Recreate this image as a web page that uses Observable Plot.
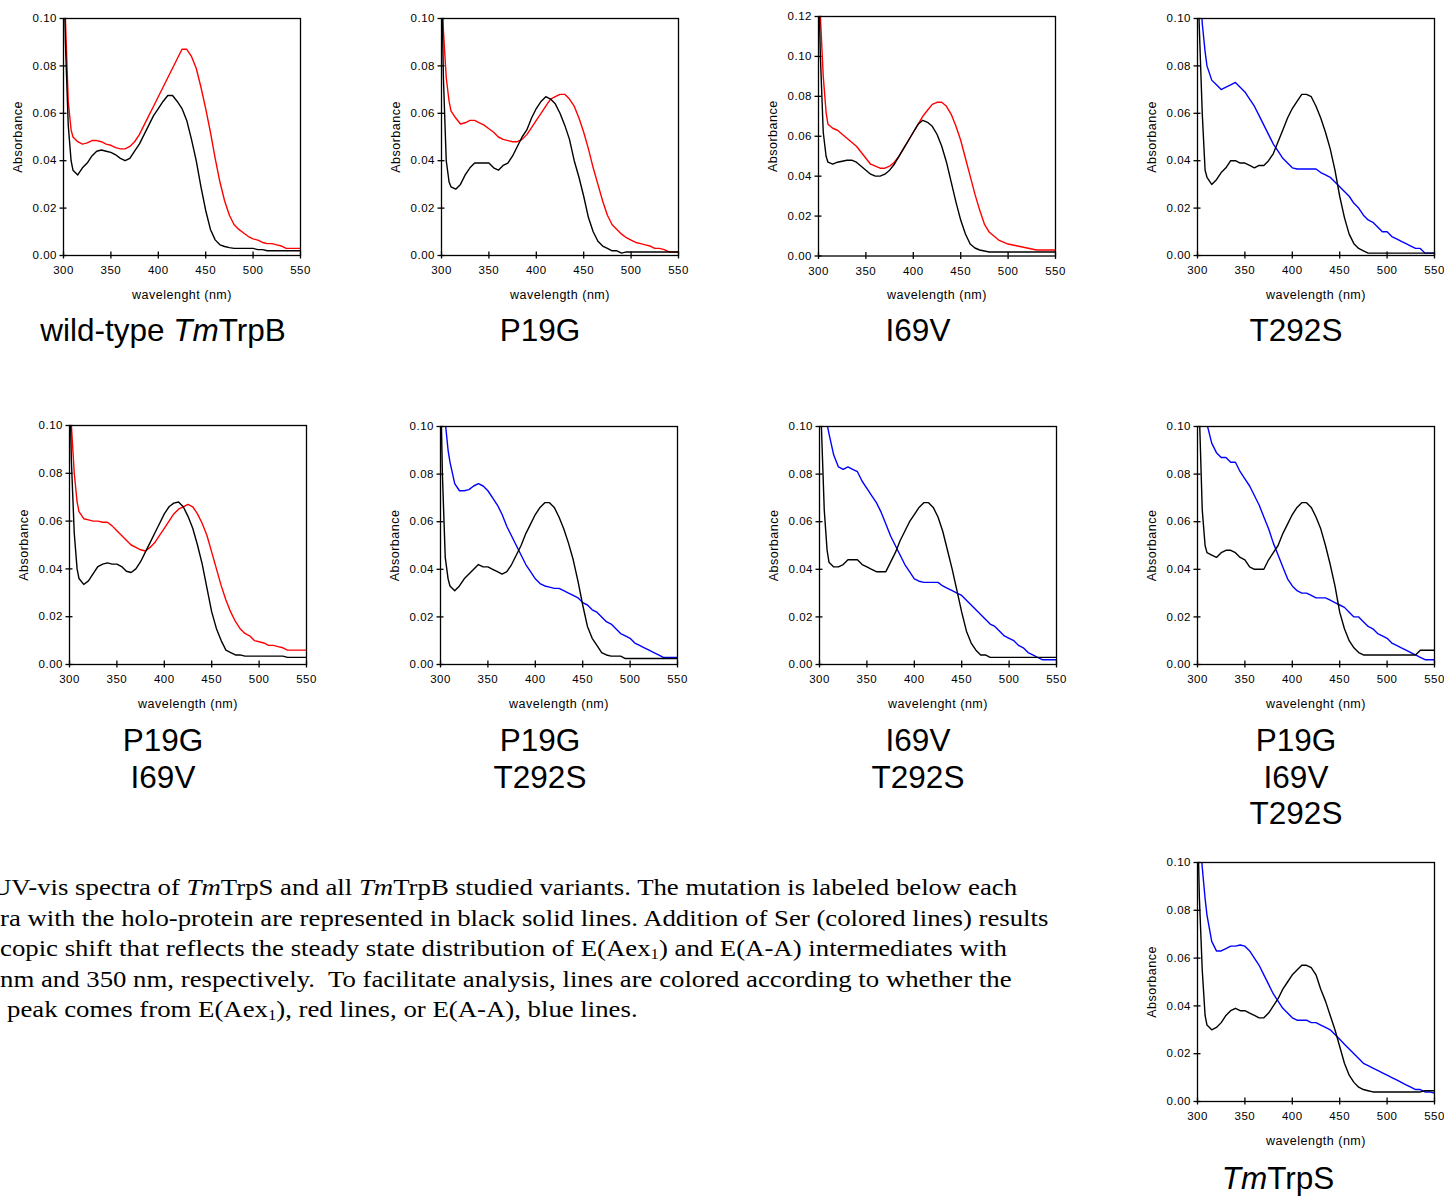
<!DOCTYPE html>
<html><head><meta charset="utf-8">
<script src="https://cdn.jsdelivr.net/npm/d3@7"></script>
<script src="https://cdn.jsdelivr.net/npm/@observablehq/plot@0.6"></script>
<style>
html,body{margin:0;padding:0;background:#fff}
body{width:1444px;height:1196px;position:relative;overflow:hidden;font-family:"Liberation Sans",Arial,sans-serif;color:#000}
.panel{position:absolute}
.panel svg{overflow:visible;max-width:none !important}
.panel svg text{letter-spacing:0.5px}
.title{position:absolute;font-size:31.5px;line-height:36.5px;text-align:center;white-space:nowrap;transform:translateX(-50%)}
.cap{position:absolute;font-family:"Liberation Serif","Times New Roman",serif;font-size:22.5px;line-height:30.5px;white-space:nowrap;transform-origin:0 0;transform:scaleX(1.19)}
.cap sub{font-size:0.62em;line-height:0;vertical-align:-0.2em}
</style></head>
<body>
<div id="root"></div>
<script>
// ---- data (absorbance) ----
const wavelength = [300, 302, 305, 308, 310,
  315, 320, 325, 330, 335, 340, 345, 350,
  355, 360, 365, 370, 375, 380, 385, 390,
  395, 400, 405, 410, 415, 420, 425, 430,
  435, 440, 445, 450, 455, 460, 465, 470,
  475, 480, 485, 490, 495, 500, 505, 510,
  515, 520, 525, 530, 535, 540, 545, 550];
const xTickValues = [300, 350, 400, 450, 500, 550];

const wtHolo = [0.13, 0.09, 0.055, 0.040, 0.036,
  0.034, 0.037, 0.039, 0.042, 0.044, 0.0445, 0.044, 0.0435,
  0.0425, 0.041, 0.040, 0.041, 0.044, 0.047, 0.051, 0.055,
  0.059, 0.062, 0.065, 0.0675, 0.0675, 0.065, 0.062, 0.057,
  0.049, 0.040, 0.029, 0.019, 0.011, 0.0066, 0.0045, 0.0038,
  0.0033, 0.003, 0.003, 0.003, 0.003, 0.003, 0.0025, 0.0025,
  0.002, 0.002, 0.002, 0.002, 0.002, 0.002, 0.002, 0.002];
const wtSer = [0.13, 0.10, 0.065, 0.053, 0.050,
  0.048, 0.047, 0.0475, 0.0485, 0.0485, 0.048, 0.047, 0.0465,
  0.0455, 0.045, 0.045, 0.046, 0.048, 0.051, 0.055, 0.059,
  0.063, 0.067, 0.071, 0.075, 0.079, 0.083, 0.087, 0.087,
  0.084, 0.079, 0.071, 0.062, 0.052, 0.041, 0.031, 0.023,
  0.017, 0.013, 0.011, 0.0095, 0.008, 0.007, 0.0065, 0.0055,
  0.005, 0.005, 0.0045, 0.004, 0.003, 0.003, 0.003, 0.003];

const p19gHolo = [0.12, 0.075, 0.040, 0.031, 0.029,
  0.028, 0.030, 0.034, 0.037, 0.039, 0.039, 0.039, 0.039,
  0.037, 0.036, 0.038, 0.039, 0.042, 0.046, 0.050, 0.053,
  0.058, 0.062, 0.065, 0.067, 0.066, 0.064, 0.060, 0.055,
  0.049, 0.040, 0.033, 0.025, 0.016, 0.010, 0.006, 0.004,
  0.003, 0.002, 0.002, 0.001, 0.0015, 0.0015, 0.0015, 0.0015,
  0.0015, 0.0015, 0.0015, 0.0015, 0.0015, 0.0015, 0.0015, 0.0015];
const p19gSer = [0.12, 0.095, 0.075, 0.065, 0.061,
  0.058, 0.0555, 0.056, 0.057, 0.057, 0.056, 0.055, 0.0535,
  0.052, 0.050, 0.049, 0.0485, 0.048, 0.048, 0.049, 0.051,
  0.054, 0.057, 0.060, 0.063, 0.066, 0.067, 0.068, 0.068,
  0.066, 0.063, 0.058, 0.052, 0.045, 0.037, 0.030, 0.023,
  0.017, 0.013, 0.011, 0.009, 0.0075, 0.0065, 0.0055, 0.005,
  0.0045, 0.004, 0.003, 0.003, 0.0025, 0.0015, 0.0015, 0.0015];

const i69vHolo = [0.14, 0.10, 0.062, 0.050, 0.047,
  0.046, 0.047, 0.0475, 0.048, 0.048, 0.047, 0.045, 0.043,
  0.041, 0.040, 0.040, 0.041, 0.043, 0.046, 0.050, 0.054,
  0.058, 0.062, 0.066, 0.068, 0.067, 0.065, 0.061, 0.055,
  0.047, 0.037, 0.027, 0.018, 0.011, 0.006, 0.004, 0.003,
  0.0025, 0.002, 0.002, 0.002, 0.002, 0.002, 0.002, 0.002,
  0.002, 0.002, 0.002, 0.002, 0.002, 0.002, 0.002, 0.002];
const i69vSer = [0.14, 0.12, 0.090, 0.072, 0.066,
  0.064, 0.063, 0.061, 0.059, 0.057, 0.055, 0.052, 0.049,
  0.046, 0.045, 0.044, 0.044, 0.045, 0.047, 0.050, 0.054,
  0.058, 0.062, 0.066, 0.070, 0.073, 0.076, 0.077, 0.077,
  0.075, 0.071, 0.065, 0.058, 0.049, 0.040, 0.031, 0.023,
  0.016, 0.012, 0.010, 0.008, 0.007, 0.006, 0.0055, 0.005,
  0.0045, 0.004, 0.0035, 0.003, 0.003, 0.003, 0.003, 0.003];

const t292sHolo = [0.12, 0.095, 0.060, 0.036, 0.033,
  0.030, 0.032, 0.035, 0.037, 0.040, 0.040, 0.039, 0.039,
  0.038, 0.037, 0.038, 0.038, 0.040, 0.043, 0.048, 0.053,
  0.058, 0.062, 0.065, 0.068, 0.068, 0.067, 0.063, 0.058,
  0.052, 0.045, 0.036, 0.025, 0.016, 0.009, 0.005, 0.003,
  0.002, 0.001, 0.001, 0.001, 0.001, 0.001, 0.001, 0.001,
  0.001, 0.001, 0.001, 0.001, 0.001, 0.001, 0.001, 0.001];
const t292sSer = [0.13, 0.12, 0.098, 0.086, 0.080,
  0.074, 0.072, 0.070, 0.071, 0.072, 0.073, 0.071, 0.069,
  0.066, 0.063, 0.059, 0.055, 0.051, 0.047, 0.044, 0.041,
  0.039, 0.037, 0.0365, 0.0365, 0.0365, 0.0365, 0.0365, 0.035,
  0.034, 0.033, 0.031, 0.029, 0.027, 0.025, 0.022, 0.020,
  0.017, 0.015, 0.014, 0.012, 0.010, 0.010, 0.008, 0.007,
  0.006, 0.005, 0.004, 0.003, 0.003, 0.001, 0.001, 0.001];

const p19gI69vHolo = [0.12, 0.085, 0.055, 0.040, 0.036,
  0.0335, 0.035, 0.038, 0.041, 0.042, 0.0425, 0.042, 0.042,
  0.041, 0.039, 0.0385, 0.040, 0.043, 0.047, 0.051, 0.055,
  0.059, 0.063, 0.066, 0.0675, 0.068, 0.066, 0.062, 0.057,
  0.050, 0.042, 0.032, 0.022, 0.015, 0.010, 0.006, 0.005,
  0.004, 0.004, 0.0035, 0.0035, 0.0035, 0.0035, 0.0035, 0.0035,
  0.0035, 0.0035, 0.0035, 0.003, 0.003, 0.003, 0.003, 0.003];
const p19gI69vSer = [0.13, 0.10, 0.080, 0.068, 0.064,
  0.061, 0.0605, 0.060, 0.060, 0.0595, 0.0595, 0.058, 0.056,
  0.054, 0.052, 0.050, 0.049, 0.048, 0.0475, 0.049, 0.051,
  0.054, 0.057, 0.060, 0.063, 0.065, 0.066, 0.067, 0.066,
  0.063, 0.059, 0.054, 0.047, 0.040, 0.033, 0.027, 0.022,
  0.018, 0.015, 0.013, 0.012, 0.010, 0.0095, 0.009, 0.008,
  0.008, 0.0075, 0.007, 0.006, 0.006, 0.006, 0.006, 0.006];

const p19gT292sHolo = [0.12, 0.080, 0.045, 0.036, 0.033,
  0.031, 0.033, 0.036, 0.038, 0.040, 0.042, 0.041, 0.041,
  0.040, 0.039, 0.038, 0.039, 0.042, 0.046, 0.050, 0.055,
  0.059, 0.063, 0.066, 0.068, 0.068, 0.066, 0.062, 0.057,
  0.051, 0.044, 0.035, 0.025, 0.016, 0.011, 0.008, 0.005,
  0.004, 0.0035, 0.0035, 0.0035, 0.0025, 0.0025, 0.0025, 0.0025,
  0.0025, 0.0025, 0.0025, 0.0025, 0.0025, 0.0025, 0.0025, 0.0025];
const p19gT292sSer = [0.13, 0.12, 0.102, 0.090, 0.085,
  0.076, 0.073, 0.073, 0.0735, 0.075, 0.076, 0.075, 0.073,
  0.070, 0.067, 0.063, 0.058, 0.054, 0.050, 0.046, 0.042,
  0.039, 0.036, 0.034, 0.033, 0.0325, 0.032, 0.032, 0.031,
  0.030, 0.029, 0.028, 0.026, 0.025, 0.023, 0.022, 0.020,
  0.018, 0.017, 0.015, 0.013, 0.012, 0.011, 0.009, 0.008,
  0.007, 0.006, 0.005, 0.004, 0.003, 0.003, 0.003, 0.003];

const i69vT292sHolo = [0.12, 0.10, 0.065, 0.048, 0.043,
  0.041, 0.041, 0.042, 0.044, 0.044, 0.044, 0.042, 0.041,
  0.040, 0.039, 0.039, 0.039, 0.043, 0.047, 0.052, 0.056,
  0.060, 0.063, 0.066, 0.068, 0.068, 0.066, 0.062, 0.056,
  0.048, 0.040, 0.031, 0.022, 0.014, 0.009, 0.006, 0.004,
  0.004, 0.003, 0.003, 0.003, 0.003, 0.003, 0.003, 0.003,
  0.003, 0.003, 0.003, 0.003, 0.003, 0.003, 0.003, 0.003];
const i69vT292sSer = [0.13, 0.12, 0.108, 0.101, 0.097,
  0.088, 0.083, 0.082, 0.083, 0.082, 0.081, 0.077, 0.074,
  0.071, 0.068, 0.064, 0.059, 0.054, 0.050, 0.046, 0.042,
  0.039, 0.036, 0.035, 0.0345, 0.0345, 0.0345, 0.0345, 0.033,
  0.032, 0.031, 0.030, 0.029, 0.027, 0.025, 0.023, 0.021,
  0.019, 0.017, 0.016, 0.014, 0.012, 0.011, 0.010, 0.008,
  0.007, 0.005, 0.004, 0.003, 0.002, 0.002, 0.002, 0.002];

const tripleHolo = [0.12, 0.105, 0.065, 0.050, 0.047,
  0.046, 0.045, 0.047, 0.048, 0.048, 0.047, 0.045, 0.044,
  0.041, 0.040, 0.040, 0.040, 0.044, 0.047, 0.050, 0.055,
  0.059, 0.063, 0.066, 0.068, 0.068, 0.066, 0.062, 0.057,
  0.050, 0.042, 0.033, 0.022, 0.015, 0.010, 0.007, 0.005,
  0.004, 0.004, 0.004, 0.004, 0.004, 0.004, 0.004, 0.004,
  0.004, 0.004, 0.004, 0.004, 0.006, 0.006, 0.006, 0.006];
const tripleSer = [0.13, 0.125, 0.115, 0.105, 0.101,
  0.093, 0.089, 0.087, 0.087, 0.085, 0.085, 0.081, 0.078,
  0.075, 0.071, 0.067, 0.062, 0.057, 0.051, 0.046, 0.041,
  0.036, 0.033, 0.031, 0.030, 0.030, 0.029, 0.028, 0.028,
  0.028, 0.027, 0.026, 0.025, 0.024, 0.022, 0.020, 0.020,
  0.018, 0.016, 0.015, 0.013, 0.012, 0.011, 0.009, 0.008,
  0.007, 0.006, 0.005, 0.004, 0.003, 0.002, 0.002, 0.002];

const trpSHolo = [0.12, 0.085, 0.055, 0.036, 0.032,
  0.030, 0.031, 0.033, 0.036, 0.038, 0.039, 0.038, 0.038,
  0.037, 0.036, 0.035, 0.035, 0.037, 0.040, 0.043, 0.047,
  0.050, 0.053, 0.055, 0.057, 0.057, 0.056, 0.053, 0.047,
  0.042, 0.036, 0.030, 0.023, 0.016, 0.011, 0.008, 0.006,
  0.005, 0.0045, 0.004, 0.004, 0.004, 0.004, 0.004, 0.004,
  0.004, 0.004, 0.004, 0.004, 0.004, 0.0045, 0.0045, 0.0045];
const trpSSer = [0.13, 0.115, 0.098, 0.085, 0.078,
  0.067, 0.063, 0.063, 0.064, 0.065, 0.065, 0.0655, 0.065,
  0.063, 0.060, 0.057, 0.053, 0.049, 0.045, 0.042, 0.039,
  0.037, 0.035, 0.034, 0.034, 0.034, 0.033, 0.033, 0.032,
  0.031, 0.030, 0.028, 0.026, 0.024, 0.022, 0.020, 0.018,
  0.016, 0.015, 0.014, 0.013, 0.012, 0.011, 0.010, 0.009,
  0.008, 0.007, 0.006, 0.005, 0.005, 0.004, 0.004, 0.0035];

// ---- layout ----
const RED = "#ff0000", BLUE = "#0000ff";
const panels = [
  {title: "wild-type <i>Tm</i>TrpB", cx: 163, ty: 312, left: 63, top: 18, h: 237, ymax: 0.10, xlabel: "wavelenght (nm)", holo: wtHolo, ser: wtSer, color: RED},
  {title: "P19G", cx: 540, ty: 312, left: 441, top: 18, h: 237, ymax: 0.10, xlabel: "wavelength (nm)", holo: p19gHolo, ser: p19gSer, color: RED},
  {title: "I69V", cx: 918, ty: 312, left: 818, top: 16, h: 239.5, ymax: 0.12, xlabel: "wavelength (nm)", holo: i69vHolo, ser: i69vSer, color: RED},
  {title: "T292S", cx: 1296, ty: 312, left: 1197, top: 18, h: 237, ymax: 0.10, xlabel: "wavelength (nm)", holo: t292sHolo, ser: t292sSer, color: BLUE},
  {title: "P19G<br>I69V", cx: 163, ty: 722, left: 69, top: 425, h: 239, ymax: 0.10, xlabel: "wavelength (nm)", holo: p19gI69vHolo, ser: p19gI69vSer, color: RED},
  {title: "P19G<br>T292S", cx: 540, ty: 722, left: 440, top: 426, h: 238, ymax: 0.10, xlabel: "wavelength (nm)", holo: p19gT292sHolo, ser: p19gT292sSer, color: BLUE},
  {title: "I69V<br>T292S", cx: 918, ty: 722, left: 819, top: 426, h: 238, ymax: 0.10, xlabel: "wavelenght (nm)", holo: i69vT292sHolo, ser: i69vT292sSer, color: BLUE},
  {title: "P19G<br>I69V<br>T292S", cx: 1296, ty: 722, left: 1197, top: 426, h: 238, ymax: 0.10, xlabel: "wavelenght (nm)", holo: tripleHolo, ser: tripleSer, color: BLUE},
  {title: "<i>Tm</i>TrpS", cx: 1278, ty: 1160, left: 1197, top: 862, h: 239, ymax: 0.10, xlabel: "wavelength (nm)", holo: trpSHolo, ser: trpSSer, color: BLUE}
];

const mL = 63, mT = 12, mR = 9, mB = 56, fw = 237;
const root = document.getElementById("root");
const toRows = arr => wavelength.map((w, i) => ({wl: w, a: arr[i]}));

for (const p of panels) {
  const yTicks = d3.range(0, p.ymax + 1e-9, 0.02);
  const chart = Plot.plot({
    width: mL + fw + mR,
    height: mT + p.h + mB,
    marginLeft: mL, marginTop: mT, marginRight: mR, marginBottom: mB,
    x: {domain: [300, 550]},
    y: {domain: [0, p.ymax]},
    style: {fontFamily: "'Liberation Sans', Arial, sans-serif", color: "#000", background: "transparent", overflow: "visible", maxWidth: "none"},
    marks: [
      Plot.line(toRows(p.ser), {x: "wl", y: "a", stroke: p.color, strokeWidth: 1.4, clip: true}),
      Plot.line(toRows(p.holo), {x: "wl", y: "a", stroke: "#000", strokeWidth: 1.4, clip: true}),
      Plot.frame({stroke: "#000", strokeWidth: 1.3}),
      Plot.axisX({ticks: xTickValues, tickSize: 3.5, tickPadding: 7, tickFormat: d => String(d), fontSize: 11.5, label: null, strokeWidth: 1.3}),
      Plot.axisX({ticks: xTickValues, tickSize: 3.5, dy: -3.5, tickFormat: () => "", label: null, strokeWidth: 1.3}),
      Plot.axisY({ticks: yTicks, tickSize: 3.5, tickPadding: 3, tickFormat: d3.format(".2f"), fontSize: 11.5, label: null, strokeWidth: 1.3}),
      Plot.axisY({ticks: yTicks, tickSize: 3.5, dx: 3.5, tickFormat: () => "", label: null, strokeWidth: 1.3}),
      Plot.text([p.xlabel], {text: d => d, frameAnchor: "bottom", textAnchor: "middle", lineAnchor: "middle", dy: 39, fontSize: 12.5}),
      Plot.text(["Absorbance"], {text: d => d, frameAnchor: "left", textAnchor: "middle", lineAnchor: "middle", rotate: -90, dx: -46, fontSize: 12.5})
    ]
  });
  const wrap = document.createElement("div");
  wrap.className = "panel";
  wrap.style.left = (p.left - mL) + "px";
  wrap.style.top = (p.top - mT) + "px";
  wrap.style.width = (mL + fw + mR) + "px";
  wrap.appendChild(chart);
  root.appendChild(wrap);

  const t = document.createElement("div");
  t.className = "title";
  t.style.left = p.cx + "px";
  t.style.top = p.ty + "px";
  t.innerHTML = p.title;
  root.appendChild(t);
}

// ---- caption (cut off at the left edge, as in the reference) ----
const captionLines = [
  {x: -8, html: "UV-vis spectra of <i>Tm</i>TrpS and all <i>Tm</i>TrpB studied variants. The mutation is labeled below each"},
  {x: 0, html: "ra with the holo-protein are represented in black solid lines. Addition of Ser (colored lines) results"},
  {x: 0, html: "copic shift that reflects the steady state distribution of E(Aex<sub>1</sub>) and E(A-A) intermediates with"},
  {x: 0, html: "nm and 350 nm, respectively.&nbsp; To facilitate analysis, lines are colored according to whether the"},
  {x: 7, html: "peak comes from E(Aex<sub>1</sub>), red lines, or E(A-A), blue lines."}
];
captionLines.forEach((l, i) => {
  const d = document.createElement("div");
  d.className = "cap";
  d.style.left = l.x + "px";
  d.style.top = (873 + i * 30.5) + "px";
  d.innerHTML = l.html;
  root.appendChild(d);
});
</script>
</body></html>
